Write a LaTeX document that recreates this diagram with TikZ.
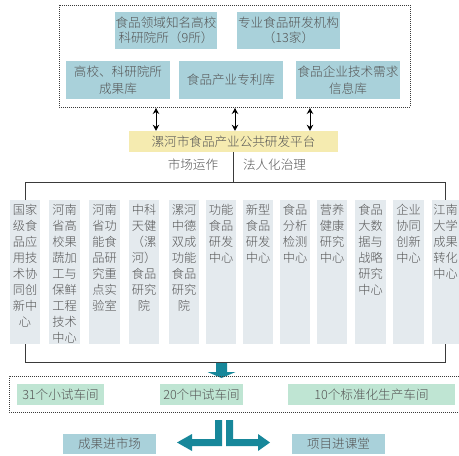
\documentclass[tikz,border=0pt]{standalone}
\usepackage{fontspec}
\setmainfont{Noto Sans CJK SC}[UprightFont={* Light}]
\usetikzlibrary{arrows.meta}
\definecolor{boxblue}{HTML}{A9D1DA}
\definecolor{platyellow}{HTML}{F5EBB0}
\definecolor{colgray}{HTML}{E4EAEE}
\definecolor{green}{HTML}{BFE5D3}
\definecolor{teal}{HTML}{17879A}
\definecolor{txt}{HTML}{555555}
\definecolor{linegray}{HTML}{3A3A3A}
\begin{document}
\begin{tikzpicture}[x=1pt,y=-1pt,
  topbox/.style={fill=boxblue, inner sep=0pt, align=center, text=txt, font=\fontsize{12.6}{14.5}\selectfont},
  platbox/.style={fill=platyellow, inner sep=0pt, align=center, text=txt, font=\fontsize{12.6}{14.5}\selectfont},
  colbox/.style={fill=colgray, inner sep=0pt, anchor=north, text=txt},
  greenbox/.style={fill=green, inner sep=0pt, align=center, text=txt, font=\fontsize{12.6}{14.5}\selectfont, minimum height=21pt},
  outbox/.style={fill=boxblue, inner sep=0pt, align=center, text=txt, font=\fontsize{12.6}{14.5}\selectfont, minimum height=20pt, minimum width=93pt},
  lbl/.style={text=txt, inner sep=0pt, font=\fontsize{12.6}{14.5}\selectfont},
  dotbox/.style={draw=linegray, line width=0.8pt, dash pattern=on 0.8pt off 1.2pt},
  conn/.style={draw=linegray, line width=0.9pt},
  dbl/.style={line width=1pt, {Stealth[length=6pt,width=6.5pt]}-{Stealth[length=6pt,width=6.5pt]}},
  tealarrow/.style={fill=teal}
]
\fill[white] (0,0) rectangle (459,456);
\useasboundingbox (0,0) rectangle (459,456);

% top group
\draw[dotbox] (59,5) rectangle (410,107);
\node[topbox, minimum width=102pt, minimum height=37pt] (b1) at (166,30.5) {食品领域知名高校\\科研院所（9所）};
\node[topbox, minimum width=103pt, minimum height=37pt] (b2) at (288.5,30.5) {专业食品研发机构\\（13家）};
\node[topbox, minimum width=104pt, minimum height=38pt, font=\fontsize{12.6}{16.5}\selectfont] (b3) at (118,80) {高校、科研院所\\成果库};
\node[topbox, minimum width=104pt, minimum height=38pt] (b4) at (231,80) {食品产业专利库};
\node[topbox, minimum width=104pt, minimum height=38pt, font=\fontsize{12.6}{16.5}\selectfont] (b5) at (348,80) {食品企业技术需求\\信息库};

\node[platbox, minimum width=209pt, minimum height=21pt] (plat) at (233.5,141.5) {漯河市食品产业公共研发平台};

\coordinate (t1) at (156,108);
\coordinate (t2) at (235,108);
\coordinate (t3) at (310,108);
\draw[dbl] (t1) -- (t1 |- plat.north);
\draw[dbl] (t2) -- (t2 |- plat.north);
\draw[dbl] (t3) -- (t3 |- plat.north);

\node[lbl] (m1) at (193,165) {市场运作};
\node[lbl] (m2) at (274.5,165) {法人化治理};

% columns
\newcommand{\coltext}[2]{\parbox[t][144pt][t]{#1pt}{\fontsize{12.2}{16}\selectfont\centering\vspace*{4pt}#2}}
\node[colbox] (c1) at (25,200) {\coltext{30}{国家\\级食\\品应\\用技\\术协\\同创\\新中\\心}};
\node[colbox] (c2) at (64.5,200) {\coltext{31}{河南\\省高\\校果\\蔬加\\工与\\保鲜\\工程\\技术\\中心}};
\node[colbox] (c3) at (104.5,200) {\coltext{31}{河南\\省功\\能食\\品研\\究重\\点实\\验室}};
\node[colbox] (c4) at (144,200) {\coltext{30}{中科\\天健\\（漯\\河）\\食品\\研究\\院}};
\node[colbox] (c5) at (184,200) {\coltext{30}{漯河\\中德\\双成\\功能\\食品\\研究\\院}};
\node[colbox] (c6) at (221,200) {\coltext{30}{功能\\食品\\研发\\中心}};
\node[colbox] (c7) at (258,200) {\coltext{30}{新型\\食品\\研发\\中心}};
\node[colbox] (c8) at (295,200) {\coltext{30}{食品\\分析\\检测\\中心}};
\node[colbox] (c9) at (332,200) {\coltext{30}{营养\\健康\\研究\\中心}};
\node[colbox] (c10) at (370.5,200) {\coltext{31}{食品\\大数\\据与\\战略\\研究\\中心}};
\node[colbox] (c11) at (408.5,200) {\coltext{31}{企业\\协同\\创新\\中心}};
\node[colbox] (c12) at (445.5,200) {\coltext{27}{江南\\大学\\成果\\转化\\中心}};

\coordinate (hl) at (0,182);
\coordinate (bl) at (0,362);
\draw[conn] (plat.south) -- (plat.south |- hl);
\draw[conn] (c1.north) |- (hl -| c12.north) -- (c12.north);
\draw[conn] (c1.south) |- (bl -| c12.south) -- (c12.south);

% down arrow
\fill[tealarrow] (216,363) -- (227,363) -- (227,372) -- (235.5,372) -- (221.5,378) -- (207.5,372) -- (216,372) -- cycle;

% workshops
\draw[dotbox] (459,376) -- (9,376) -- (9,412) -- (459,412);
\node[greenbox, minimum width=87pt] (g1) at (60.5,394.5) {31个小试车间};
\node[greenbox, minimum width=83pt] (g2) at (201.5,394.5) {20个中试车间};
\node[greenbox, minimum width=167pt] (g3) at (371.5,394.5) {10个标准化生产车间};

% split arrows
\fill[tealarrow] (222,420) -- (222,446) -- (192,446) -- (192,451) -- (177,442.5) -- (192,434) -- (192,439) -- (215,439) -- (215,420) -- cycle;
\fill[tealarrow] (226,420) -- (226,446) -- (258,446) -- (258,451) -- (270,442.5) -- (258,434) -- (258,439) -- (233,439) -- (233,420) -- cycle;

\node[outbox] (r1) at (109.5,444) {成果进市场};
\node[outbox] (r2) at (338.5,444) {项目进课堂};
\end{tikzpicture}
\end{document}
